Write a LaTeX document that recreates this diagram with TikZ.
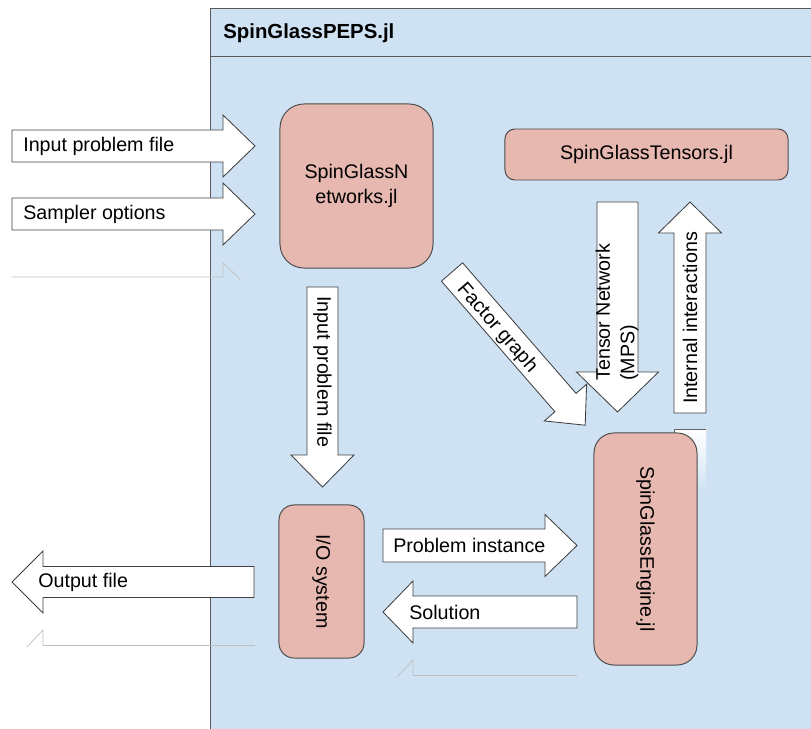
\documentclass[tikz,border=0pt]{standalone}
\usepackage{fontspec}
\setmainfont{Liberation Sans}
\usetikzlibrary{calc}

\newcommand{\lbl}{\fontsize{14}{17.5}\selectfont}

\begin{document}
\begin{tikzpicture}[x=0.025cm, y=-0.025cm,
  modbox/.style={draw=black!70, fill=berry, rounded corners=#1, line width=0.7pt,
                 inner sep=0pt, font=\lbl, align=center},
  modbox/.default=0.5cm,
  blockarrow/.style={draw=black!75, fill=white, line width=0.6pt, line join=miter},
  txt/.style={inner sep=0pt, font=\lbl},
  ghost/.style={draw=black!25, line width=0.5pt}]

%─────────────
% Colours and page
%─────────────
\definecolor{paneblue}{RGB}{207,226,243}  % package pane
\definecolor{berry}{RGB}{230,184,175}     % module boxes
\useasboundingbox (0,0) rectangle (811,729);
\clip (0,0) rectangle (811,729);

%─────────────────────────────────────────────────────────────
% Block arrow: tail centre (#1,#2), angle #3, length #4,
% body half width #5, head half width #6, head length #7
%─────────────────────────────────────────────────────────────
\newcommand{\drawBlockArrow}[7]{%
  \begin{scope}[shift={(#1,#2)}, rotate=#3]
    \draw[blockarrow] (0,-#5) -- ({#4-#7},-#5) -- ({#4-#7},-#6) -- (#4,0)
      -- ({#4-#7},#6) -- ({#4-#7},#5) -- (0,#5) -- cycle;
  \end{scope}
}

%─────────────
% Package pane
%─────────────
\draw[draw=black!65, fill=paneblue, line width=0.7pt] (210,8) rectangle (840,760);
\draw[draw=black!65, line width=0.7pt] (210,56) -- (840,56);
\node[txt, anchor=west, font=\fontsize{14.5}{17}\selectfont\bfseries] (title) at (223,33) {SpinGlassPEPS.jl};

%─────────────
% Faint leftovers
%─────────────
\draw[ghost] (12,277) -- (223,277) -- (223,263) -- (240,279);
\draw[ghost] (43,645) -- (255,645);
\draw[ghost] (27,647) -- (43,630) -- (43,645);
\draw[ghost] (413,675) -- (577,675);
\draw[ghost] (397,677) -- (413,660) -- (413,675);
\shade[top color=white, bottom color=paneblue] (674,429) rectangle (706,492);
\draw[ghost, draw=black!60] (674,470) -- (674,429) -- (706,429);

%─────────────
% Modules
%─────────────
\node[modbox=0.6cm, minimum width=3.825cm, minimum height=4.1cm] (networks) at (356.5,186)
  {SpinGlassN\\etworks.jl};
\node[modbox=0.25cm, minimum width=7.075cm, minimum height=1.275cm] (tensors) at (646.5,154.5)
  {SpinGlassTensors.jl};
\node[modbox=0.375cm, rotate=-90, minimum width=3.825cm, minimum height=2.125cm] (iosys) at (321.5,581.5)
  {I/O system};
\node[modbox=0.5cm, rotate=-90, minimum width=5.8cm, minimum height=2.575cm] (engine) at (645.5,549)
  {SpinGlassEngine.jl};

%─────────────
% Block arrows
%─────────────
\drawBlockArrow{12}{146}{0}{243}{16}{31}{32}       % input file in
\drawBlockArrow{12}{214}{0}{243}{16}{31}{32}       % sampler options in
\drawBlockArrow{322.5}{287}{-90}{200}{15.5}{31.5}{32}  % networks -> io
\drawBlockArrow{254}{582}{180}{242}{15.5}{31}{31}  % output file out
\drawBlockArrow{383}{545.5}{0}{194}{16.5}{31}{32}  % io -> engine
\drawBlockArrow{577}{612}{180}{194}{16}{31}{30}    % engine -> io
\drawBlockArrow{452}{272}{-49}{203}{14}{28}{30}    % factor graph
\drawBlockArrow{617.5}{202}{-90}{210}{20.5}{41}{40}  % tensors -> engine
\drawBlockArrow{690}{413}{90}{211}{16}{31.5}{31}   % engine -> tensors

%─────────────
% Labels
%─────────────
\node[txt, anchor=west] (inFile) at (23,146) {Input problem file};
\node[txt, anchor=west] (inOpts) at (23,214) {Sampler options};
\node[txt, anchor=west, rotate=-90] (ioFile) at (322.5,296) {Input problem file};
\node[txt, anchor=west] (outFile) at (38,582) {Output file};
\node[txt, anchor=west] (instance) at (393,545.5) {Problem instance};
\node[txt, anchor=west] (solution) at (409,612) {Solution};
\node[txt, rotate=-49] (factor) at (497,328) {Factor graph};
\node[txt, anchor=west, rotate=90, align=left] (mps) at (617,381) {Tensor Network\\(MPS)};
\node[txt, rotate=90] (internal) at (690,318) {Internal interactions};

\end{tikzpicture}
\end{document}
